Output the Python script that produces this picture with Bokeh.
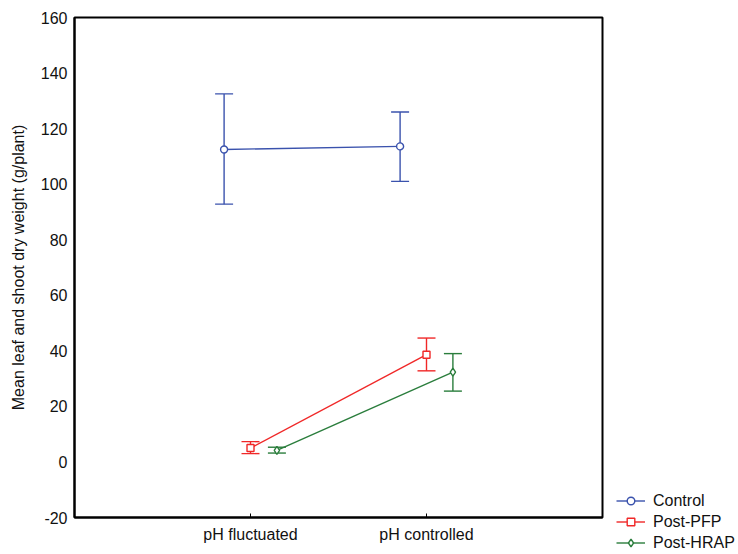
from bokeh.plotting import figure
from bokeh.models import (ColumnDataSource, Whisker, TeeHead, Range1d, FixedTicker,
                          Legend, LegendItem)
from bokeh.layouts import row
from bokeh.transform import dodge
from bokeh.embed import file_html
from bokeh.resources import INLINE

conditions = ["pH fluctuated", "pH controlled"]
series = ["Control", "Post-PFP", "Post-HRAP"]
means = {
    "Control": [112.5, 113.6],
    "Post-PFP": [5.0, 38.6],
    "Post-HRAP": [4.2, 32.3],
}
uppers = {
    "Control": [132.5, 126.0],
    "Post-PFP": [7.3, 44.6],
    "Post-HRAP": [5.3, 39.0],
}
lowers = {
    "Control": [92.8, 101.0],
    "Post-PFP": [3.0, 32.8],
    "Post-HRAP": [3.2, 25.5],
}
y_ticks = [-20, 0, 20, 40, 60, 80, 100, 120, 140, 160]

colors = {"Control": "#3a52ad", "Post-PFP": "#f02828", "Post-HRAP": "#2a7d3c"}
offsets = {"Control": -0.15, "Post-PFP": 0.0, "Post-HRAP": 0.15}
markers = {"Control": "circle", "Post-PFP": "square", "Post-HRAP": "diamond"}
msizes = {"Control": 7, "Post-PFP": 7, "Post-HRAP": 8}

FONT = "Liberation Sans"
FS = "16px"
TXT = "#111111"

p = figure(width=604, height=552, output_backend="svg", toolbar_location=None,
           x_range=Range1d(0, 3), y_range=Range1d(-20, 160),
           min_border_left=74, min_border_right=2, min_border_top=17,
           min_border_bottom=35)
p.frame_align = False
p.background_fill_color = "white"
p.border_fill_color = "white"
p.outline_line_color = "black"
p.outline_line_width = 2
p.xgrid.visible = False
p.ygrid.visible = False

xpos = [i + 1 for i in range(len(conditions))]

for s in series:
    src = ColumnDataSource(dict(x=xpos, y=means[s], up=uppers[s], lo=lowers[s]))
    c = colors[s]
    w = Whisker(source=src, base=dodge("x", offsets[s]), upper="up", lower="lo",
                dimension="height", line_color=c, line_width=1.4,
                upper_head=TeeHead(size=18, line_color=c, line_width=1.4),
                lower_head=TeeHead(size=18, line_color=c, line_width=1.4))
    p.add_layout(w)
    p.line(x=dodge("x", offsets[s]), y="y", source=src, line_color=c, line_width=1.4)
    p.scatter(x=dodge("x", offsets[s]), y="y", source=src, marker=markers[s],
              size=msizes[s], line_color=c, fill_color="white", line_width=1.4)

p.xaxis.ticker = FixedTicker(ticks=xpos)
p.xaxis.major_label_overrides = {x: c for x, c in zip(xpos, conditions)}
p.yaxis.ticker = FixedTicker(ticks=y_ticks)
p.yaxis.major_label_overrides = {t: str(t) for t in y_ticks}

for ax in (p.xaxis, p.yaxis):
    ax.axis_line_color = "black"
    ax.axis_line_width = 2
    ax.major_label_text_font = FONT
    ax.major_label_text_font_size = FS
    ax.major_label_text_color = TXT
    ax.minor_tick_line_color = None

p.xaxis.major_tick_in = 4
p.xaxis.major_tick_out = 0
p.xaxis.major_tick_line_color = "black"
p.xaxis.major_label_standoff = 8
p.yaxis.major_tick_in = 0
p.yaxis.major_tick_out = 0
p.yaxis.major_tick_line_color = None
p.yaxis.major_label_standoff = 7

p.yaxis.axis_label = "Mean leaf and shoot dry weight (g/plant)"
p.yaxis.axis_label_text_font = FONT
p.yaxis.axis_label_text_font_size = FS
p.yaxis.axis_label_text_font_style = "normal"
p.yaxis.axis_label_text_color = TXT
p.yaxis.axis_label_standoff = 11

# legend panel (separate figure so the legend may sit below the frame's bottom edge)
q = figure(width=132, height=552, output_backend="svg", toolbar_location=None,
           x_range=Range1d(0, 1), y_range=Range1d(0, 1),
           x_axis_location=None, y_axis_location=None,
           min_border_left=0, min_border_right=0, min_border_top=0, min_border_bottom=0)
q.frame_align = False
q.outline_line_color = None
q.xgrid.visible = False
q.ygrid.visible = False
q.background_fill_color = "white"
q.border_fill_color = "white"

items = []
for s in series:
    c = colors[s]
    dummy = ColumnDataSource(dict(x=[-5], y=[-5]))
    ln = q.line(x="x", y="y", source=dummy, line_color=c, line_width=1.4)
    mk = q.scatter(x="x", y="y", source=dummy, marker=markers[s], size=msizes[s],
                   line_color=c, fill_color="white", line_width=1.4)
    items.append(LegendItem(label=s, renderers=[ln, mk]))

legend = Legend(items=items, location=(12, 0), orientation="vertical",
                label_text_font=FONT, label_text_font_size=FS,
                label_text_color=TXT, glyph_width=29, glyph_height=19,
                spacing=2, padding=0, margin=0, border_line_color=None,
                background_fill_alpha=0, label_standoff=8)
q.add_layout(legend, "center")

layout = row(p, q, spacing=0)
open("out.html", "w").write(file_html(layout, INLINE))
